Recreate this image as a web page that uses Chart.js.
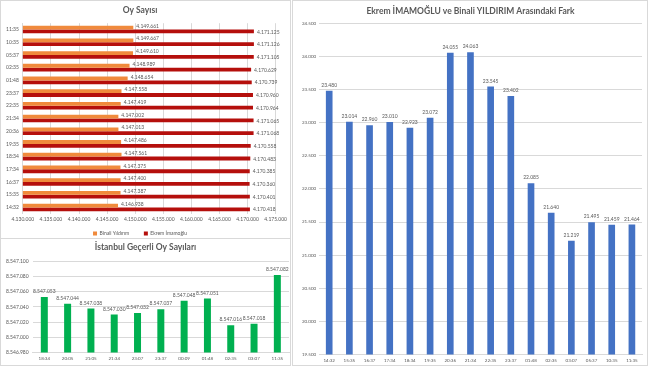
<!DOCTYPE html>
<html>
<head>
<meta charset="utf-8">
<script src="https://cdn.jsdelivr.net/npm/chart.js@4"></script>
<style>
  body { margin: 0; background: #fff; width: 648px; height: 366px; overflow: hidden; position: relative; }
  .panel { position: absolute; box-sizing: border-box; border: 1px solid #d9d9d9; }
  canvas { position: absolute; }
</style>
</head>
<body>
<div class="panel" style="left:0;top:0;width:291px;height:239px"></div>
<div class="panel" style="left:0;top:238px;width:291px;height:128px"></div>
<div class="panel" style="left:292px;top:0;width:356px;height:366px"></div>
<!-- the top-left canvas runs a bit past its panel so the legend sits low like the original -->
<canvas id="oy" width="290" height="246" style="left:0;top:0"></canvas>
<canvas id="gecerli" width="290" height="127" style="left:0;top:239px"></canvas>
<canvas id="fark" width="354" height="365" style="left:293px;top:1px"></canvas>
<script>
// Oy Sayısı (top row = latest)
const oyTimes = ['11:35', '10:35', '05:37', '02:35', '01:48', '23:37', '22:35', '21:34',
                 '20:36', '19:35', '18:34', '17:34', '16:37', '15:35', '14:32'];
const binali = [4149661, 4149667, 4149610, 4148989, 4148654, 4147558, 4147419, 4147002,
                4147013, 4147486, 4147561, 4147375, 4147400, 4147387, 4146938];
const ekrem = [4171125, 4171126, 4171105, 4170629, 4170739, 4170960, 4170964, 4171065,
               4171068, 4170558, 4170483, 4170385, 4170360, 4170401, 4170418];

// İstanbul Geçerli Oy Sayıları
const gecerliTimes = ['18:34', '20:05', '21:05', '21:34', '23:07', '23:37', '00:09',
                      '01:48', '02:35', '03:07', '11:35'];
const gecerli = [8547053, 8547044, 8547038, 8547030, 8547032, 8547037, 8547048,
                 8547051, 8547016, 8547018, 8547082];

// Aradaki fark
const farkTimes = ['14:32', '15:35', '16:37', '17:34', '18:34', '19:35', '20:36', '21:34',
                   '22:35', '23:37', '01:48', '02:35', '03:07', '05:37', '10:35', '11:35'];
const fark = [23480, 23014, 22960, 23010, 22923, 23072, 24055, 24063,
              23545, 23402, 22085, 21640, 21219, 21495, 21459, 21464];

const GRAY = '#595959';
const GRID = '#d9d9d9';
const FAMILY = 'Lato, "Liberation Sans", sans-serif';
Chart.defaults.font.family = FAMILY;
Chart.defaults.color = GRAY;

function fmt(n) {
    return Math.round(n).toString().replace(/\B(?=(\d{3})+(?!\d))/g, '.');
}

// small inline plugin for the value labels
const valueLabels = {
    id: 'valueLabels',
    afterDatasetsDraw(chart) {
        const ctx = chart.ctx;
        const horizontal = chart.options.indexAxis === 'y';
        ctx.save();
        ctx.font = '5px ' + FAMILY;
        ctx.fillStyle = GRAY;
        chart.data.datasets.forEach((ds, di) => {
            const meta = chart.getDatasetMeta(di);
            meta.data.forEach((bar, i) => {
                const txt = fmt(ds.data[i]);
                if (horizontal) {
                    ctx.textAlign = 'left';
                    ctx.textBaseline = 'middle';
                    ctx.fillText(txt, bar.x + 3, bar.y + (di === 0 ? -1.5 : 0.5));
                } else {
                    ctx.textAlign = 'center';
                    ctx.textBaseline = 'bottom';
                    ctx.fillText(txt, bar.x, bar.y - 3);
                }
            });
        });
        ctx.restore();
    }
};

const tickFont = { size: 5 };
const smallTick = { size: 4.5 };
const titleFont = { size: 8.5 };

new Chart(document.getElementById('oy'), {
    type: 'bar',
    data: {
        labels: oyTimes,
        datasets: [{
            label: 'Binali Yıldırım',
            data: binali,
            backgroundColor: '#F08A3C',
            categoryPercentage: 0.6,
            barPercentage: 1
        }, {
            label: 'Ekrem İmamoğlu',
            data: ekrem,
            backgroundColor: '#B50F0C',
            categoryPercentage: 0.6,
            barPercentage: 1
        }]
    },
    options: {
        indexAxis: 'y',
        responsive: false,
        animation: false,
        layout: { padding: { left: 2, right: 12, top: 0, bottom: 0 } },
        plugins: {
            title: { display: true, text: 'Oy Sayısı', color: GRAY, font: titleFont,
                     padding: { top: 5, bottom: 8 } },
            legend: {
                position: 'bottom',
                // empty legend title only used as a gap above the legend row
                title: { display: true, text: '', font: { size: 1 }, padding: { top: 0, bottom: 2 } },
                labels: {
                    boxWidth: 4, boxHeight: 4, font: tickFont, color: GRAY, padding: 2,
                    generateLabels(chart) {
                        const items = Chart.defaults.plugins.legend.labels.generateLabels(chart);
                        // wider gap between the two entries
                        items[0].text = items[0].text + '\u00a0'.repeat(10);
                        return items;
                    }
                }
            },
            tooltip: { enabled: false }
        },
        scales: {
            x: {
                min: 4130000, max: 4175000,
                ticks: { stepSize: 5000, callback: v => fmt(v), font: tickFont, maxRotation: 0,
                         autoSkip: false, padding: 3 },
                grid: { color: GRID, drawTicks: false },
                border: { display: false }
            },
            y: {
                grid: { display: false, drawTicks: false },
                ticks: { font: tickFont, padding: 4 },
                border: { color: GRID }
            }
        }
    },
    plugins: [valueLabels]
});

new Chart(document.getElementById('gecerli'), {
    type: 'bar',
    data: {
        labels: gecerliTimes,
        datasets: [{
            label: 'Geçerli Oy',
            data: gecerli,
            backgroundColor: '#00B050',
            categoryPercentage: 1,
            barPercentage: 0.3
        }]
    },
    options: {
        responsive: false,
        animation: false,
        layout: { padding: { left: 2, right: 1, top: 0, bottom: 2 } },
        plugins: {
            title: { display: true, text: 'İstanbul Geçerli Oy Sayıları', color: GRAY, font: titleFont,
                     padding: { top: 3, bottom: 9 } },
            legend: { display: false },
            tooltip: { enabled: false }
        },
        scales: {
            x: {
                grid: { display: false, drawTicks: false },
                ticks: { font: smallTick, maxRotation: 0, autoSkip: false, padding: 3 },
                border: { color: GRID }
            },
            y: {
                min: 8546980, max: 8547100,
                ticks: { stepSize: 20, callback: v => fmt(v), font: tickFont, padding: 4 },
                grid: { color: GRID, drawTicks: false },
                border: { display: false }
            }
        }
    },
    plugins: [valueLabels]
});

new Chart(document.getElementById('fark'), {
    type: 'bar',
    data: {
        labels: farkTimes,
        datasets: [{
            label: 'Fark',
            data: fark,
            backgroundColor: '#4472C4',
            categoryPercentage: 1,
            barPercentage: 0.33
        }]
    },
    options: {
        responsive: false,
        animation: false,
        layout: { padding: { left: 6, right: 5, top: 0, bottom: 0 } },
        plugins: {
            title: { display: true, text: 'Ekrem İMAMOĞLU ve Binali YILDIRIM Arasındaki Fark', color: GRAY,
                     font: titleFont, padding: { top: 5, bottom: 7 } },
            legend: { display: false },
            tooltip: { enabled: false }
        },
        scales: {
            x: {
                grid: { display: false, drawTicks: false },
                ticks: { font: smallTick, maxRotation: 0, autoSkip: false, padding: 3 },
                border: { color: GRID }
            },
            y: {
                min: 19500, max: 24500,
                ticks: { stepSize: 500, callback: v => fmt(v), font: smallTick, padding: 3 },
                grid: { color: GRID, drawTicks: false },
                border: { display: false }
            }
        }
    },
    plugins: [valueLabels]
});
</script>
</body>
</html>
